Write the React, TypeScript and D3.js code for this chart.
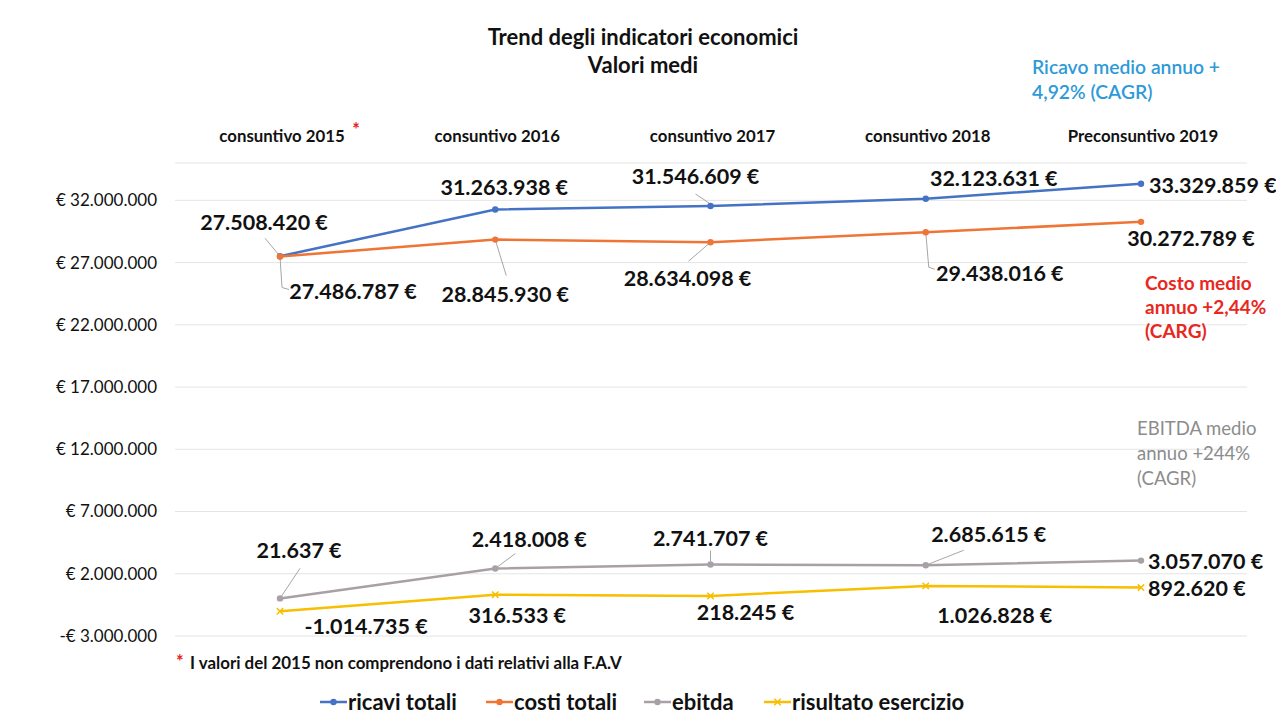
import React from "react";
import * as d3 from "d3";

const categories = ["consuntivo 2015", "consuntivo 2016", "consuntivo 2017", "consuntivo 2018", "Preconsuntivo 2019"];
const ricavi = [27508420, 31263938, 31546609, 32123631, 33329859];
const costi = [27486787, 28845930, 28634098, 29438016, 30272789];
const ebitda = [21637, 2418008, 2741707, 2685615, 3057070];
const risultato = [-1014735, 316533, 218245, 1026828, 892620];
const yTicks = [-3000000, 2000000, 7000000, 12000000, 17000000, 22000000, 27000000, 32000000];
const yMax = 35000000;
const legendNames = ["ricavi totali", "costi totali", "ebitda", "risultato esercizio"];

const W = 1276, H = 721;
const FONT = "Lato, 'Open Sans', sans-serif";

const loc = d3.formatLocale({ decimal: ",", thousands: ".", grouping: [3], currency: ["€ ", ""] });
const fmtAbs = loc.format(",.0f");
const fmt = (v: number) => (v < 0 ? "-" : "") + fmtAbs(Math.abs(v));
const valLabel = (v: number) => fmt(v) + " €";
const axisLabel = (v: number) => (v < 0 ? "-€ " + fmtAbs(-v) : "€ " + fmtAbs(v));

type Lbl = { dx: number; dy: number; anchor?: string; leader?: number[][] };

const series = [
  {
    name: legendNames[0], values: ricavi, color: "#4472C4", marker: "circle",
    labels: [
      { dx: -16, dy: -34, leader: [[0, 0], [-15, -18]] },
      { dx: 9, dy: -22 },
      { dx: -15, dy: -30, leader: [[0, -2], [-15, -12]] },
      { dx: 68, dy: -20 },
      { dx: 8, dy: 2, anchor: "start" },
    ] as Lbl[],
  },
  {
    name: legendNames[1], values: costi, color: "#EF7536", marker: "circle",
    labels: [
      { dx: 73, dy: 35, leader: [[0, 0], [2, 31], [9, 33]] },
      { dx: 10, dy: 55, leader: [[0, 0], [11, 36]] },
      { dx: -23, dy: 36, leader: [[0, 0], [-22, 19]] },
      { dx: 74, dy: 41, leader: [[0, 0], [3, 35], [9, 37]] },
      { dx: 50, dy: 17 },
    ] as Lbl[],
  },
  {
    name: legendNames[2], values: ebitda, color: "#A8A0A6", marker: "circle",
    labels: [
      { dx: 19, dy: -48, leader: [[0, 0], [20, -30]] },
      { dx: 34, dy: -29, leader: [[0, 0], [20, -15]] },
      { dx: 0, dy: -26, leader: [[0, -3], [0, -14]] },
      { dx: 63, dy: -31, leader: [[0, 0], [38, -15]] },
      { dx: 7, dy: 1, anchor: "start" },
    ] as Lbl[],
  },
  {
    name: legendNames[3], values: risultato, color: "#F8BE00", marker: "x",
    labels: [
      { dx: 86, dy: 15 },
      { dx: 22, dy: 21 },
      { dx: 35, dy: 17 },
      { dx: 69, dy: 30 },
      { dx: 7, dy: 1, anchor: "start" },
    ] as Lbl[],
  },
];

const legendX = [320, 486, 644, 764];

export default function App() {
  const x = d3.scalePoint<string>().domain(categories).range([280, 1141]);
  const y = d3.scaleLinear().domain([-3000000, yMax]).range([636, 163]);
  const plotL = 175, plotR = 1247;

  const line = d3
    .line<number>()
    .x((_, i) => x(categories[i]) as number)
    .y((d) => y(d));

  const xSym = d3.symbol(d3.symbolX, 28)();

  const marker = (m: string, color: string, cx: number, cy: number, key: string) =>
    m === "circle" ? (
      <circle key={key} cx={cx} cy={cy} r={3.2} fill={color} />
    ) : (
      <path key={key} d={xSym as string} transform={`translate(${cx},${cy})`} stroke={color} strokeWidth={1.5} fill="none" />
    );

  return (
    <svg width={W} height={H} style={{ position: "absolute", left: 0, top: 0, background: "#fff" }} fontFamily={FONT}>
      <rect x={0} y={0} width={W} height={H} fill="#fff" />
      {/* title */}
      <text x={643} y={45} textAnchor="middle" fontSize={22} fontWeight={700} fill="#111">
        Trend degli indicatori economici
      </text>
      <text x={643} y={73} textAnchor="middle" fontSize={22} fontWeight={700} fill="#111">
        Valori medi
      </text>

      {/* gridlines */}
      {[...yTicks, yMax].map((t) => (
        <line key={"g" + t} x1={plotL} x2={plotR} y1={y(t)} y2={y(t)} stroke="#e4e4e4" strokeWidth={1} />
      ))}
      {yTicks.map((t) => (
        <text key={"t" + t} x={157} y={y(t)} dy="0.35em" textAnchor="end" fontSize={17} fill="#111">
          {axisLabel(t)}
        </text>
      ))}

      {/* category labels */}
      {categories.map((c) => (
        <text key={c} x={(x(c) as number) + 2} y={142} textAnchor="middle" fontSize={16.8} fontWeight={700} fill="#111">
          {c}
        </text>
      ))}
      <text x={356} y={136} textAnchor="middle" fontSize={18} fontWeight={700} fill="#E8201E">*</text>

      {/* leader lines */}
      {series.map((s, si) =>
        s.labels.map((l, i) =>
          l.leader ? (
            <polyline
              key={`ld${si}-${i}`}
              points={l.leader.map(([a, b]) => `${(x(categories[i]) as number) + a},${y(s.values[i]) + b}`).join(" ")}
              fill="none"
              stroke="#a6a6a6"
              strokeWidth={1}
            />
          ) : null
        )
      )}

      {/* lines */}
      {series.map((s) => (
        <path key={"l" + s.name} d={line(s.values) as string} fill="none" stroke={s.color} strokeWidth={2.5} />
      ))}
      {series.map((s, si) =>
        s.values.map((v, i) => marker(s.marker, s.color, x(categories[i]) as number, y(v), `m${si}-${i}`))
      )}

      {/* data labels */}
      {series.map((s, si) =>
        s.values.map((v, i) => {
          const l = s.labels[i];
          return (
            <text
              key={`dl${si}-${i}`}
              x={(x(categories[i]) as number) + l.dx}
              y={y(v) + l.dy}
              dy="0.35em"
              textAnchor={l.anchor || "middle"}
              fontSize={21.5}
              fontWeight={700}
              fill="#111"
            >
              {valLabel(v)}
            </text>
          );
        })
      )}

      {/* annotations */}
      <g fontSize={19.3} fontWeight={600} fill="#2E9AD8">
        <text x={1032} y={74}>Ricavo medio annuo +</text>
        <text x={1032} y={99}>4,92% (CAGR)</text>
      </g>
      <g fontSize={19} fontWeight={700} fill="#E8281E">
        <text x={1145} y={290}>Costo medio</text>
        <text x={1145} y={314}>annuo +2,44%</text>
        <text x={1145} y={338}>(CARG)</text>
      </g>
      <g fontSize={18.5} fontWeight={400} fill="#8C8C8C">
        <text x={1137} y={435}>EBITDA medio</text>
        <text x={1137} y={460}>annuo +244%</text>
        <text x={1137} y={485}>(CAGR)</text>
      </g>

      {/* footnote */}
      <text x={176} y={668} fontSize={18} fontWeight={700} fill="#E8201E">*</text>
      <text x={190} y={669} fontSize={16.9} fontWeight={700} fill="#111">
        I valori del 2015 non comprendono i dati relativi alla F.A.V
      </text>

      {/* legend */}
      {series.map((s, i) => (
        <g key={"lg" + i} transform={`translate(${legendX[i]},702)`}>
          <line x1={0} x2={27} y1={0} y2={0} stroke={s.color} strokeWidth={2.5} />
          {marker(s.marker, s.color, 13.5, 0, "lm" + i)}
          <text x={28} y={0} dy="0.35em" fontSize={22} fontWeight={700} fill="#111">
            {s.name}
          </text>
        </g>
      ))}
    </svg>
  );
}
